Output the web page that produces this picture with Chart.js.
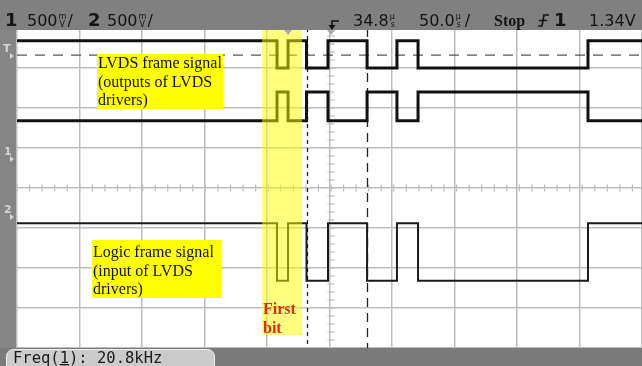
<!DOCTYPE html>
<html>
<head>
<meta charset="utf-8">
<script src="https://cdn.jsdelivr.net/npm/chart.js@4/dist/chart.umd.min.js"></script>
<style>
  html, body { margin: 0; padding: 0; background: #fff; overflow: hidden; }
  canvas { display: block; }
</style>
</head>
<body>
<canvas id="scope" width="642" height="366"></canvas>
<script>
// Time base 50 µs/div, 500 mV/div, 0 V at the screen centre line.
const edgeTimes = [207.0, 215.8, 230.5, 247.6, 278.7, 302.5, 319.3, 454.6]; // µs from left graticule edge
const frameBits = [1, 0, 1, 0, 1, 0, 1, 0, 1];     // logic state between edges
const lvdsPosLevels = [1.50, 1.84];                // [low, high] in V
const lvdsNegLevels = [0.84, 1.20];                // [low, high] in V
const logicLevels = [-1.16, -0.44];                // [low, high] in V
const timeRange = [0, 497.6];                      // µs shown across the screen
const voltRange = [-2, 2];                         // V shown top to bottom
const cursorTimes = [230.9, 278.7];                // µs, dashed time cursors
const triggerLevel = 1.66;                         // V, dashed trigger line
const firstBitSpan = [195.1, 226.9];               // µs, highlighted first bit

const headerLeft = { ch1: '1', ch1Scale: '500', ch2: '2', ch2Scale: '500' };
const headerRight = { delay: '34.8', timeScale: '50.0', mode: 'Stop', trigCh: '1', trigLevel: '1.34V' };
const footerParts = ['Freq(', '1', '): 20.8kHz'];
const lvdsNote = ['LVDS frame signal', '(outputs of LVDS', 'drivers)'];
const logicNote = ['Logic frame signal', '(input of LVDS', 'drivers)'];
const firstBitNote = ['First', 'bit'];

// Square-wave points: one flat segment per bit, vertical edges between them.
function traceFrom(levels, invert) {
  const pts = [];
  for (let i = 0; i < frameBits.length; i++) {
    const start = i === 0 ? timeRange[0] : edgeTimes[i - 1];
    const end = i === frameBits.length - 1 ? timeRange[1] : edgeTimes[i];
    const bit = invert ? 1 - frameBits[i] : frameBits[i];
    pts.push({ x: start, y: levels[bit] }, { x: end, y: levels[bit] });
  }
  return pts;
}

const gridColor = '#bdbdbd';

const scopeDecor = {
  id: 'scopeDecor',
  beforeDraw(chart) {
    const c = chart.ctx;
    c.save();
    c.fillStyle = '#ffffff';
    c.fillRect(0, 0, chart.width, chart.height);
    c.restore();
  },
  beforeDatasetsDraw(chart) {
    const c = chart.ctx, xs = chart.scales.x, ys = chart.scales.y, a = chart.chartArea;
    c.save();
    // minor ticks on the centre cross
    c.strokeStyle = gridColor;
    c.lineWidth = 1.2;
    const yc = ys.getPixelForValue(0);
    for (let t = timeRange[0]; t <= timeRange[1]; t += 10) {
      const px = xs.getPixelForValue(t);
      c.beginPath(); c.moveTo(px, yc - 3.5); c.lineTo(px, yc + 3.5); c.stroke();
    }
    const xc = xs.getPixelForValue(250);
    for (let v = voltRange[0]; v <= voltRange[1] + 1e-6; v += 0.1) {
      const py = ys.getPixelForValue(v);
      c.beginPath(); c.moveTo(xc - 3.5, py); c.lineTo(xc + 3.5, py); c.stroke();
    }
    // trigger level
    c.strokeStyle = '#555';
    c.lineWidth = 1.2;
    c.setLineDash([10, 8]);
    const ty = ys.getPixelForValue(triggerLevel);
    c.beginPath(); c.moveTo(a.left, ty); c.lineTo(a.right, ty); c.stroke();
    // time cursors
    c.strokeStyle = '#222';
    c.lineWidth = 1.3;
    const dashes = [[4, 4], [9, 6]];
    cursorTimes.forEach((t, i) => {
      c.setLineDash(dashes[i]);
      const px = Math.round(xs.getPixelForValue(t)) + 0.5;
      c.beginPath(); c.moveTo(px, a.top); c.lineTo(px, a.bottom); c.stroke();
    });
    c.restore();
  },
  afterDatasetsDraw(chart) {
    const c = chart.ctx, xs = chart.scales.x;
    c.save();
    // first-bit highlight
    const x0 = xs.getPixelForValue(firstBitSpan[0]);
    const x1 = xs.getPixelForValue(firstBitSpan[1]);
    c.fillStyle = 'rgba(255,255,0,0.5)';
    c.fillRect(x0, 30, x1 - x0, 305);
    c.fillStyle = '#e22a1c';
    c.font = 'bold 16px "Liberation Serif"';
    c.textBaseline = 'alphabetic';
    c.fillText(firstBitNote[0], 263, 314);
    c.fillText(firstBitNote[1], 263, 333);

    // note boxes
    c.font = '16px "Liberation Serif"';
    c.fillStyle = '#ffff00';
    c.fillRect(97, 54, 126, 55);
    c.fillStyle = '#111';
    lvdsNote.forEach((s, i) => c.fillText(s, 98, 68 + i * 18.5));
    c.fillStyle = '#ffff00';
    c.fillRect(92, 240, 129, 58);
    c.fillStyle = '#111';
    logicNote.forEach((s, i) => c.fillText(s, 93, 257 + i * 18.5));

    // header bar
    c.fillStyle = '#808080';
    c.fillRect(0, 0, chart.width, 30);
    // left bar
    c.fillStyle = '#858585';
    c.fillRect(0, 30, 16, 318);
    // footer bar
    c.fillStyle = '#7b7b7b';
    c.fillRect(0, 348, chart.width, 18);

    // header texts
    c.fillStyle = '#141414';
    c.font = 'bold 18px "DejaVu Sans"';
    c.fillText(headerLeft.ch1, 5, 26);
    c.fillText(headerLeft.ch2, 88, 26);
    c.font = '16px "DejaVu Sans"';
    c.fillText(headerLeft.ch1Scale, 27, 26);
    c.fillText(headerLeft.ch2Scale, 107, 26);
    c.fillText(headerRight.delay, 353, 26);
    c.fillText(headerRight.timeScale, 419, 26);
    c.fillText(headerRight.trigLevel, 589, 26);
    c.font = 'bold 16px "Liberation Serif"';
    c.fillText(headerRight.mode, 494, 26);
    c.font = 'bold 18px "DejaVu Sans"';
    c.fillText(headerRight.trigCh, 554, 26);
    // stacked units
    const stacked = (top, bottom, x) => {
      c.font = '8px "DejaVu Sans"';
      c.fillText(top, x, 19);
      c.fillText(bottom, x + 1, 27);
    };
    c.font = '16px "DejaVu Sans"';
    let w = c.measureText(headerLeft.ch1Scale).width;
    stacked('m', 'V', 27 + w + 1);
    c.font = '16px "DejaVu Sans"'; c.fillText('/', 27 + w + 10, 26);
    stacked('m', 'V', 107 + w + 1);
    c.font = '16px "DejaVu Sans"'; c.fillText('/', 107 + w + 10, 26);
    c.font = '16px "DejaVu Sans"';
    w = c.measureText(headerRight.delay).width;
    stacked('µ', 's', 353 + w + 1);
    c.font = '16px "DejaVu Sans"';
    w = c.measureText(headerRight.timeScale).width;
    stacked('µ', 's', 419 + w + 1);
    c.font = '16px "DejaVu Sans"'; c.fillText('/', 419 + w + 10, 26);

    // trigger delay marker
    c.strokeStyle = '#141414';
    c.lineWidth = 1.6;
    c.beginPath(); c.moveTo(332, 29); c.lineTo(332, 21); c.lineTo(339, 21); c.stroke();
    c.beginPath(); c.moveTo(328.5, 25); c.lineTo(335.5, 25); c.lineTo(332, 30); c.closePath();
    c.fillStyle = '#141414'; c.fill();
    // rising-edge trigger symbol
    c.beginPath();
    c.moveTo(538, 26); c.lineTo(542, 26); c.lineTo(544, 15); c.lineTo(549, 15);
    c.moveTo(539, 20.5); c.lineTo(547, 20.5);
    c.stroke();

    // trigger position markers below the header
    c.fillStyle = '#a9a9a9';
    [288, 331].forEach(px => {
      c.beginPath(); c.moveTo(px - 4, 30); c.lineTo(px + 4, 30); c.lineTo(px, 35); c.closePath(); c.fill();
    });

    // left-bar markers
    c.fillStyle = '#d4d4d4';
    c.font = 'bold 11px "DejaVu Sans"';
    c.fillText('T', 3, 52);
    c.fillText('1', 4, 155);
    c.fillText('2', 4, 213);
    [56, 159, 217].forEach(py => {
      c.beginPath(); c.moveTo(10, py - 3); c.lineTo(14, py); c.lineTo(10, py + 3); c.closePath(); c.fill();
    });

    // footer readout box
    c.fillStyle = '#cbcbcb';
    c.strokeStyle = '#eeeeee';
    c.lineWidth = 1;
    c.beginPath();
    c.roundRect(6.5, 349.5, 208, 17, [7, 7, 0, 0]);
    c.fill(); c.stroke();
    c.fillStyle = '#1a1a1a';
    c.font = '15.5px "DejaVu Sans Mono"';
    let fx = 13;
    footerParts.forEach((s, i) => {
      c.fillText(s, fx, 363);
      const sw = c.measureText(s).width;
      if (i === 1) c.fillRect(fx, 364, sw, 1.3);
      fx += sw;
    });
    c.restore();
  }
};

new Chart(document.getElementById('scope'), {
  type: 'line',
  data: {
    datasets: [
      { data: traceFrom(lvdsPosLevels, false), borderColor: '#111', borderWidth: 3 },
      { data: traceFrom(lvdsNegLevels, true), borderColor: '#111', borderWidth: 3 },
      { data: traceFrom(logicLevels, false), borderColor: '#1a1a1a', borderWidth: 2 }
    ]
  },
  options: {
    responsive: false,
    animation: false,
    events: [],
    elements: { point: { radius: 0 }, line: { tension: 0, borderCapStyle: 'butt', borderJoinStyle: 'miter' } },
    layout: { padding: { left: 17, top: 28, right: 0, bottom: 18 } },
    plugins: { legend: { display: false }, tooltip: { enabled: false } },
    scales: {
      x: {
        type: 'linear', min: timeRange[0], max: timeRange[1],
        ticks: { display: false, stepSize: 50 },
        grid: { color: gridColor, lineWidth: 1.5, drawTicks: false },
        border: { display: false },
        afterFit(s) { s.height = 0; }
      },
      y: {
        type: 'linear', min: voltRange[0], max: voltRange[1],
        ticks: { display: false, stepSize: 0.5 },
        grid: { color: gridColor, lineWidth: 1.5, drawTicks: false },
        border: { display: false },
        afterFit(s) { s.width = 0; }
      }
    }
  },
  plugins: [scopeDecor]
});
</script>
</body>
</html>
